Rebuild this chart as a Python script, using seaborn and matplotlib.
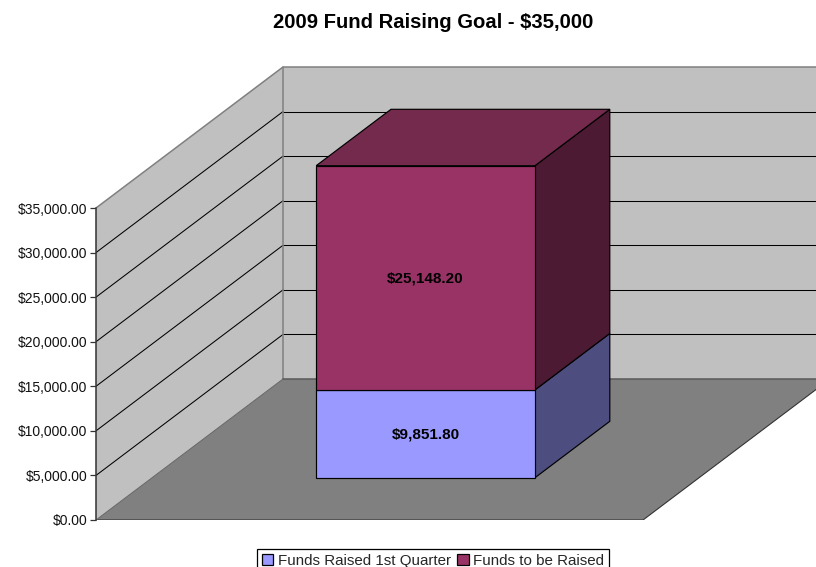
import numpy as np
import pandas as pd
import matplotlib
matplotlib.use('Agg')
import matplotlib.pyplot as plt
from matplotlib.patches import Polygon, Patch
from matplotlib.transforms import Affine2D
import seaborn as sns

# values
categories = ['2009']
raised = [9851.80]
to_raise = [25148.20]
series_names = ['Funds Raised 1st Quarter', 'Funds to be Raised']
y_ticks = [0, 5000, 10000, 15000, 20000, 25000, 30000, 35000]
title = '2009 Fund Raising Goal - $35,000'

sns.set_theme(style='white')
plt.rcParams['font.family'] = ['Liberation Sans', 'DejaVu Sans']

W, H = 816, 567
fig = plt.figure(figsize=(W/100, H/100), dpi=100)
# axes start at the front left corner of the floor, runs off the right side
ax = fig.add_axes([96/W, (H-520)/H, (W-96)/W, 460/H])

px_y = 35000/312      # value per pixel
px_x = 1/547          # category axis: one slot is 547 px wide
ax.set_xlim(-0.5, -0.5 + (W-96)*px_x)
ax.set_ylim(0, 460*px_y)

# depth of the 3d box, in data units
dx = 187*px_x
dy = 141*px_y
bar_front = 0.3
bar_back = 0.7

def proj(x, y, d):
    return (x + d*dx, y + d*dy)

df = pd.DataFrame({'cat': categories, 'raised': raised, 'to_raise': to_raise})

top = max(y_ticks)
wall_left = [proj(-0.5, 0, 0), proj(-0.5, 0, 1), proj(-0.5, top, 1), proj(-0.5, top, 0)]
wall_back = [proj(-0.5, 0, 1), proj(0.5, 0, 1), proj(1.0, 0, 1), proj(1.0, top, 1), proj(-0.5, top, 1)]
floor = [proj(-0.5, 0, 0), proj(0.5, 0, 0), proj(0.5, 0, 1), proj(-0.5, 0, 1)]
ax.add_patch(Polygon(wall_back, fc='#C0C0C0', ec='none', zorder=1))
ax.add_patch(Polygon(wall_left, fc='#C0C0C0', ec='none', zorder=1))
ax.add_patch(Polygon(floor, fc='#808080', ec='none', zorder=1.5))

# gridlines on the walls
for t in y_ticks[1:-1]:
    a, b = proj(-0.5, t, 0), proj(-0.5, t, 1)
    ax.plot([a[0], b[0]], [a[1], b[1]], color='black', lw=0.75, zorder=2)
    ax.plot([b[0], 1.0], [b[1], b[1]], color='black', lw=0.75, zorder=2)

# wall outline, gray
a, b = proj(-0.5, top, 0), proj(-0.5, top, 1)
ax.plot([a[0], b[0], 1.0], [a[1], b[1], b[1]], color='#808080', lw=1.1, zorder=2)
c = proj(-0.5, 0, 1)
ax.plot([b[0], c[0]], [b[1], c[1]], color='#808080', lw=1.1, zorder=2)
ax.plot([c[0], 1.0], [c[1], c[1]], color='#595959', lw=1.1, zorder=2)

# floor edges
f = proj(0.5, 0, 0)
g = proj(0.5, 0, 1)
ax.plot([-0.5, f[0], g[0]], [0, 0, g[1]], color='#333333', lw=0.8, zorder=2)
ax.plot([-0.5, c[0]], [0, c[1]], color='#666666', lw=0.7, zorder=2)

# front faces, the seaborn bars pushed back into the box
sns.barplot(data=df, x='cat', y='raised', color='#9999FF', saturation=1, width=0.4,
            edgecolor='black', linewidth=0.85, ax=ax, zorder=4)
sns.barplot(data=df, x='cat', y='to_raise', bottom=raised, color='#993366', saturation=1, width=0.4,
            edgecolor='black', linewidth=0.85, ax=ax, zorder=4)
ax.set_xlim(-0.5, -0.5 + (W-96)*px_x)
ax.set_ylim(0, 460*px_y)

shift = Affine2D().translate(bar_front*dx, bar_front*dy) + ax.transData
bars = [p for p in ax.patches if p.get_facecolor()[:3] in
        (matplotlib.colors.to_rgb('#9999FF'), matplotlib.colors.to_rgb('#993366'))]
side_cols = ['#4D4D80', '#4D1A33']
top_col = '#732A4D'
for i, bar in enumerate(bars):
    bar.set_transform(shift)
    x0, x1 = bar.get_x(), bar.get_x() + bar.get_width()
    y0, y1 = bar.get_y(), bar.get_y() + bar.get_height()
    side = [proj(x1, y0, bar_front), proj(x1, y0, bar_back), proj(x1, y1, bar_back), proj(x1, y1, bar_front)]
    ax.add_patch(Polygon(side, fc=side_cols[i], ec='black', lw=0.85, zorder=3))
    if i == len(bars)-1:
        lid = [proj(x0, y1, bar_front), proj(x0, y1, bar_back), proj(x1, y1, bar_back), proj(x1, y1, bar_front)]
        ax.add_patch(Polygon(lid, fc=top_col, ec='black', lw=0.85, zorder=3))
    cx, cy = proj((x0+x1)/2, (y0+y1)/2, bar_front)
    ax.text(cx, cy - 1*px_y, '${:,.2f}'.format(y1-y0), ha='center', va='center', fontsize=11,
            fontweight='bold', color='black', zorder=6)

# axis
sns.despine(ax=ax, top=True, right=True, bottom=True)
ax.spines['left'].set_bounds(0, top)
ax.spines['left'].set_color('#333333')
ax.spines['left'].set_linewidth(1.1)
ax.set_yticks(y_ticks)
ax.set_yticklabels(['${:,.2f}'.format(v) for v in y_ticks], fontsize=10, color='#111111')
ax.tick_params(axis='y', left=True, length=4.5, width=0.9, color='#333333', pad=1.5)
ax.set_xticks([])
ax.set_xlabel('')
ax.set_ylabel('')
ax.patch.set_alpha(0)

fig.text(433/W, 1-22/H, title, ha='center', va='center', fontsize=14.6, fontweight='bold', color='black')

handles = [Patch(fc='#9999FF', ec='black', lw=0.9), Patch(fc='#993366', ec='black', lw=0.9)]
leg = fig.legend(handles, series_names, ncol=2, loc='upper center', bbox_to_anchor=(433/W, 1-549/H),
                 bbox_transform=fig.transFigure, fontsize=10.9, frameon=True, fancybox=False,
                 edgecolor='black', framealpha=1, handlelength=0.75, handleheight=0.75,
                 handletextpad=0.3, columnspacing=0.45, borderpad=0.3, borderaxespad=0)
leg.get_frame().set_linewidth(0.9)

fig.savefig('out.png', dpi=100)
